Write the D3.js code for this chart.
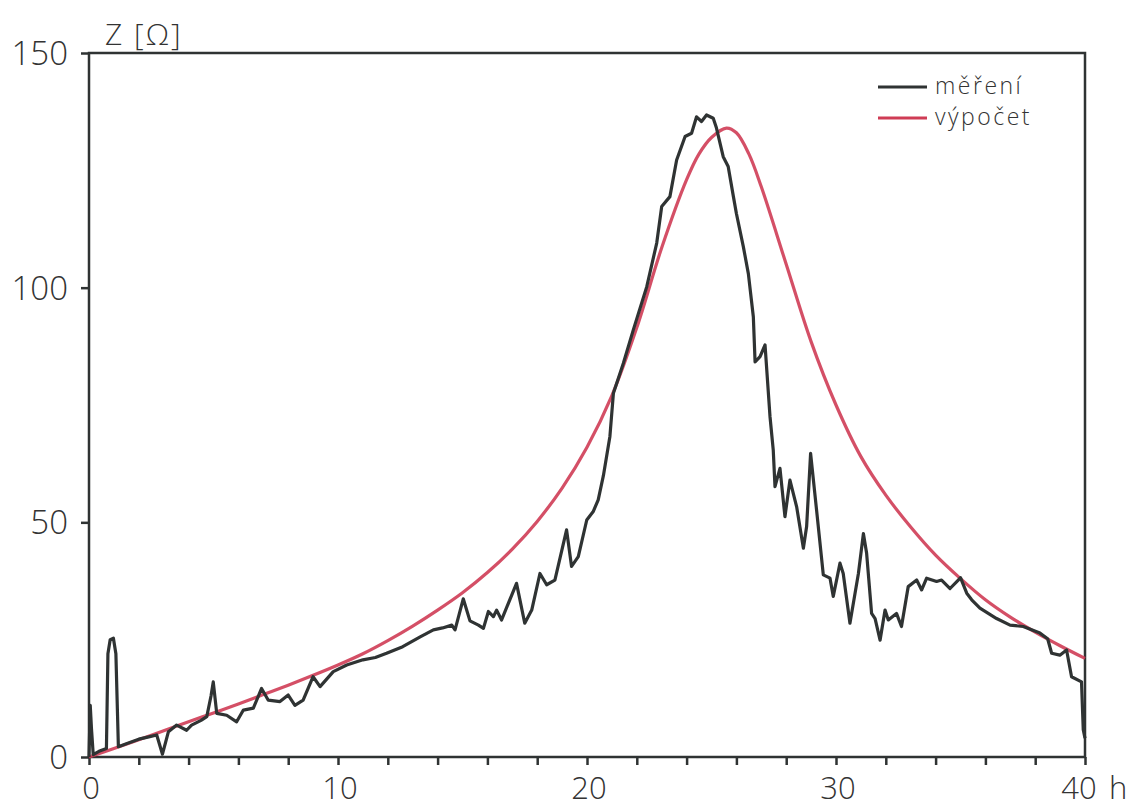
<!DOCTYPE html>
<html>
<head>
<meta charset="utf-8">
<script src="https://cdn.jsdelivr.net/npm/d3@7"></script>
<style>
  body { margin: 0; background: #fff; }
  svg text { font-family: "Open Sans", "DejaVu Sans", sans-serif; font-weight: 300; fill: #333; }
</style>
</head>
<body>
<div id="chart"></div>
<script>
// measured impedance (hours, ohms)
const measHours = [0, 0.05, 0.1, 0.17, 0.4, 0.7, 0.76, 0.85, 0.98, 1.08, 1.18, 1.5, 2.0, 2.4, 2.72, 2.95,
  3.19, 3.52, 3.92, 4.12, 4.5, 4.73, 4.9, 4.99, 5.13, 5.53, 5.93, 6.2, 6.6, 6.93, 7.2, 7.67, 8.0, 8.27,
  8.6, 9.0, 9.28, 9.81, 10.35, 11.0, 11.5, 11.95, 12.6, 13.3, 13.83, 14.2, 14.57, 14.7, 15.03, 15.3,
  15.64, 15.84, 16.04, 16.24, 16.37, 16.57, 17.17, 17.5, 17.78, 18.11, 18.38, 18.71, 19.18, 19.38,
  19.65, 19.99, 20.25, 20.45, 20.66, 20.92, 21.06, 21.46, 21.86, 22.4, 22.8, 23.0, 23.33, 23.6, 23.94,
  24.2, 24.4, 24.6, 24.8, 25.07, 25.2, 25.47, 25.67, 25.88, 26.0, 26.28, 26.48, 26.68, 26.75, 26.95,
  27.15, 27.35, 27.48, 27.55, 27.75, 27.95, 28.15, 28.42, 28.69, 28.82, 28.98, 29.22, 29.49, 29.76,
  29.89, 30.16, 30.29, 30.56, 30.9, 31.1, 31.23, 31.43, 31.57, 31.77, 31.97, 32.1, 32.43, 32.63, 32.9,
  33.24, 33.44, 33.64, 34.04, 34.24, 34.58, 34.91, 35.0, 35.25, 35.45, 35.78, 36.45, 36.99, 37.52,
  38.19, 38.5, 38.66, 38.99, 39.26, 39.46, 39.86, 39.93, 40];
const measZ = [0, 11, 6, 0.5, 1.2, 1.8, 22, 25, 25.3, 22, 2.2, 2.8, 3.8, 4.3, 4.7, 0.6,
  5.4, 6.8, 5.7, 6.8, 7.8, 8.6, 13, 16, 9.3, 8.9, 7.5, 10, 10.4, 14.6, 12.1, 11.8, 13.2, 11,
  12.1, 17.1, 15, 18.2, 19.6, 20.7, 21.2, 22.1, 23.5, 25.6, 27.1, 27.5, 28.1, 27.1, 33.7, 29,
  28.1, 27.4, 31, 29.9, 31.3, 29.2, 37, 28.5, 31.3, 39.1, 36.7, 37.7, 48.4, 40.6,
  42.7, 50.5, 52.3, 54.8, 60, 68.3, 77.5, 83.9, 91, 100.2, 109.5, 117.3, 119.4, 127.2, 132.2,
  132.9, 136.4, 135.4, 136.8, 136.1, 134, 127.9, 125.8, 119.4, 115.8, 108.7, 103, 93.8, 84.2, 85.3,
  87.8, 72.5, 65.4, 57.6, 61.5, 51.2, 59, 53.3, 44.5, 49.1, 64.7, 52.6, 38.8, 38.1,
  34.2, 41.3, 39.1, 28.5, 39.1, 47.6, 43.4, 30.6, 29.5, 24.9, 31.3, 29.2, 30.6, 27.8, 36.3,
  37.7, 35.6, 38.1, 37.4, 37.7, 35.9, 37.7, 38.2, 34.9, 33.5, 31.7, 29.5, 28.1, 27.8,
  26.4, 25.2, 22.1, 21.7, 22.8, 17.1, 16, 5.8, 4];

// calculated impedance
const calcHours = [0, 1, 2, 3, 4, 5, 6, 7, 8, 9, 10, 11, 12, 13, 14, 15, 16, 17, 18, 19, 20, 21, 22, 23,
  24, 24.5, 25, 25.6, 26, 26.5, 27, 28, 29, 30, 31, 32, 33, 34, 35, 36, 37, 38, 39, 40];
const calcZ = [0, 1.8, 3.7, 5.6, 7.5, 9.4, 11.3, 13.3, 15.3, 17.4, 19.6, 22.0, 24.8, 27.9, 31.3, 35.0,
  39.3, 44.3, 50.2, 57.3, 66, 77, 91.5, 108.5, 123, 128.5, 132, 134, 133, 128.5, 121.5, 105, 88.5, 75,
  64, 55.8, 49, 43, 38, 33.5, 29.8, 26.6, 23.7, 21];

const xTicks = d3.range(0, 41, 2);
const xLabels = [0, 10, 20, 30, 40];
const yLabels = [0, 50, 100, 150];
const legendItems = ['měření', 'výpočet'];

const W = 1134;
const H = 808;
const margin = { top: 53, right: 49, bottom: 51, left: 89 };
const innerW = W - margin.left - margin.right;
const innerH = H - margin.top - margin.bottom;

const ink = '#2f3333';
const red = '#cf3c55';

const svg = d3.select('#chart').append('svg')
  .attr('width', W)
  .attr('height', H);

const g = svg.append('g')
  .attr('transform', `translate(${margin.left},${margin.top})`);

const x = d3.scaleLinear().domain([0, 40]).range([0, innerW]);
const y = d3.scaleLinear().domain([0, 150]).range([innerH, 0]);

// frame
g.append('rect')
  .attr('width', innerW)
  .attr('height', innerH)
  .attr('fill', 'none')
  .attr('stroke', ink)
  .attr('stroke-width', 2.5);

// x axis
const xAxis = g.append('g')
  .attr('transform', `translate(0,${innerH})`)
  .call(d3.axisBottom(x).tickValues(xTicks).tickSize(8).tickFormat(''));
xAxis.select('.domain').remove();
xAxis.selectAll('line').attr('stroke', ink).attr('stroke-width', 2.5);

g.selectAll('.xlab')
  .data(xLabels)
  .enter().append('text')
  .attr('class', 'xlab')
  .attr('x', d => x(d) + (d === 40 ? -6 : 2))
  .attr('y', innerH + 42)
  .attr('text-anchor', 'middle')
  .attr('font-size', 31)
  .text(d => d);

g.append('text')
  .attr('x', x(40) + 24)
  .attr('y', innerH + 42)
  .attr('font-size', 31)
  .text('h');

// y axis
const yAxis = g.append('g')
  .call(d3.axisLeft(y).tickValues(yLabels).tickSize(8).tickFormat(''));
yAxis.select('.domain').remove();
yAxis.selectAll('line').attr('stroke', ink).attr('stroke-width', 2.5);

g.selectAll('.ylab')
  .data(yLabels)
  .enter().append('text')
  .attr('class', 'ylab')
  .attr('x', -21)
  .attr('y', d => y(d))
  .attr('dy', '0.36em')
  .attr('text-anchor', 'end')
  .attr('font-size', 33)
  .text(d => d);

g.append('text')
  .attr('x', 16)
  .attr('y', -8)
  .attr('font-size', 30)
  .attr('letter-spacing', 2)
  .text('Z [Ω]');

// lines
const calcLine = d3.line()
  .x(d => x(d[0]))
  .y(d => y(d[1]))
  .curve(d3.curveCatmullRom.alpha(0.5));

const measLine = d3.line()
  .x(d => x(d[0]))
  .y(d => y(d[1]));

g.append('path')
  .datum(d3.zip(calcHours, calcZ))
  .attr('fill', 'none')
  .attr('stroke', red)
  .attr('stroke-width', 3.2)
  .attr('stroke-opacity', 0.9)
  .attr('d', calcLine);

g.append('path')
  .datum(d3.zip(measHours, measZ))
  .attr('fill', 'none')
  .attr('stroke', ink)
  .attr('stroke-width', 3.2)
  .attr('stroke-linejoin', 'round')
  .attr('d', measLine);

// legend
const legend = g.append('g')
  .attr('transform', `translate(${x(40) - 207},34)`);

const rows = legend.selectAll('g')
  .data(legendItems)
  .enter().append('g')
  .attr('transform', (d, i) => `translate(0,${i * 31})`);

rows.append('line')
  .attr('x1', 0)
  .attr('x2', 49)
  .attr('stroke', (d, i) => (i ? red : ink))
  .attr('stroke-width', 3);

rows.append('text')
  .attr('x', 57)
  .attr('dy', '0.3em')
  .attr('font-size', 23)
  .attr('letter-spacing', 2.5)
  .text(d => d);
</script>
</body>
</html>
